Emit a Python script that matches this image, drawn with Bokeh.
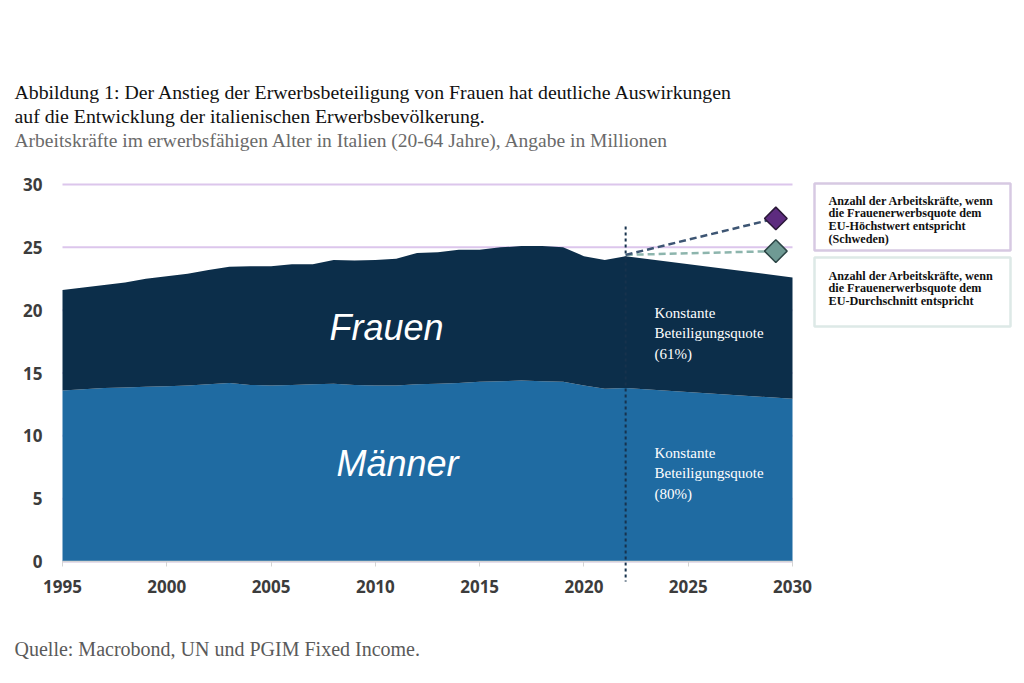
from bokeh.plotting import figure
from bokeh.models import Label, BoxAnnotation, LinearAxis, FixedTicker
from bokeh.embed import file_html
from bokeh.resources import INLINE
import math

# ---------------- data ----------------
jahre = [1995, 1996, 1997, 1998, 1999, 2000, 2001, 2002, 2003, 2004, 2005, 2006,
         2007, 2008, 2009, 2010, 2011, 2012, 2013, 2014, 2015, 2016, 2017, 2018,
         2019, 2020, 2021, 2022, 2030]
gesamt = [21.6, 21.8, 22.0, 22.2, 22.5, 22.7, 22.9, 23.2, 23.45, 23.5, 23.5, 23.65,
          23.65, 24.0, 23.95, 24.0, 24.1, 24.55, 24.6, 24.8, 24.8, 25.0, 25.1, 25.1,
          25.0, 24.3, 24.0, 24.3, 22.6]
maenner = [13.6, 13.7, 13.8, 13.85, 13.9, 13.95, 14.0, 14.1, 14.2, 14.05, 14.0, 14.05,
           14.1, 14.15, 14.05, 14.0, 14.0, 14.1, 14.15, 14.2, 14.3, 14.35, 14.4, 14.35,
           14.3, 14.0, 13.75, 13.8, 12.95]

prognose_start = 2022
szenario_jahre = [2022, 2029.2]
szenario_schweden = [24.4, 27.3]
szenario_eu = [24.4, 24.7]

x_ticks = [1995, 2000, 2005, 2010, 2015, 2020, 2025, 2030]
y_ticks = [0, 5, 10, 15, 20, 25, 30]

# ---------------- layout geometry (page pixels) ----------------
W, H = 1020, 680
FL, FR, FT, FB = 62, 792, 184, 561   # plot area edges
X0, X1, Y0, Y1 = 1995, 2030, 0, 30

def dx(px):
    return X0 + (px - FL) * (X1 - X0) / (FR - FL)

def dy(py):
    return Y0 + (FB - py) * (Y1 - Y0) / (FB - FT)

p = figure(width=W, height=H, x_range=(dx(0), dx(W)), y_range=(dy(H), dy(0)),
           output_backend="svg", toolbar_location=None,
           x_axis_location=None, y_axis_location=None,
           min_border=0)
p.outline_line_color = None
p.background_fill_color = "white"
p.border_fill_color = "white"
p.xgrid.visible = False
p.ygrid.visible = False

FRAUEN_C = "#0c2e4a"
MAENNER_C = "#1f6ba2"

# grid lines (only inside the data area)
p.segment(x0=[X0] * len(y_ticks), x1=[X1] * len(y_ticks), y0=y_ticks, y1=y_ticks,
          line_color="#dcc6ec", line_width=2)

p.varea(x=jahre, y1=[0] * len(jahre), y2=maenner, fill_color=MAENNER_C)
p.varea(x=jahre, y1=maenner, y2=gesamt, fill_color=FRAUEN_C)

# axes
xax = LinearAxis(fixed_location=0, ticker=FixedTicker(ticks=x_ticks), bounds=(X0, X1))
yax = LinearAxis(fixed_location=X0, ticker=FixedTicker(ticks=y_ticks), bounds=(Y0, Y1))
for ax in (xax, yax):
    ax.major_label_text_font = "Open Sans"
    ax.major_label_text_font_style = "bold"
    ax.major_label_text_font_size = "17px"
    ax.major_label_text_color = "#3c3c3c"
    ax.minor_tick_line_color = None
xax.axis_line_color = "#d4d4d4"
xax.axis_line_width = 1.5
xax.major_tick_line_color = "#d4d4d4"
xax.major_tick_in = 0
xax.major_tick_out = 5
xax.major_label_standoff = 13
yax.axis_line_color = None
yax.major_tick_line_color = None
yax.major_tick_in = 0
yax.major_tick_out = 0
yax.major_label_standoff = 20
p.add_layout(xax, "below")
p.add_layout(yax, "left")

# projection divider
p.segment(x0=[prognose_start], x1=[prognose_start], y0=[dy(226)], y1=[dy(581)],
          line_color="#17324d", line_width=2, line_dash="3 3")

# scenario lines and diamonds
p.line(szenario_jahre, szenario_eu, line_color="#8db5ad", line_width=2.5, line_dash="7 4")
p.line(szenario_jahre, szenario_schweden, line_color="#3d5573", line_width=2.5, line_dash="7 4")
p.scatter([szenario_jahre[-1]], [szenario_schweden[-1]], marker="square", angle=math.pi / 4,
          size=16, fill_color="#5d2b7f", line_color="#2a1838", line_width=1.5)
p.scatter([szenario_jahre[-1]], [szenario_eu[-1]], marker="square", angle=math.pi / 4,
          size=16, fill_color="#6f9a94", line_color="#2c4646", line_width=1.5)

# area labels
for txt, px, py in (("Frauen", 386, 327), ("Männer", 397, 463)):
    p.add_layout(Label(x=dx(px), y=dy(py), text=txt, text_align="center",
                       text_baseline="middle", text_font="Liberation Sans",
                       text_font_style="italic", text_font_size="36px",
                       text_color="white"))

for txt, py in (("Konstante\nBeteiligungsquote\n(61%)", 304),
                ("Konstante\nBeteiligungsquote\n(80%)", 444)):
    p.add_layout(Label(x=dx(654), y=dy(py), text=txt, text_align="left",
                       text_baseline="top", text_font="Liberation Serif",
                       text_font_size="15px", text_line_height=1.3,
                       text_color="white"))

# legend boxes
p.add_layout(BoxAnnotation(left=dx(814), right=dx(1010), top=dy(183), bottom=dy(250),
                           fill_color="white", fill_alpha=1.0,
                           line_color="#7b4ca0", line_width=2.5))
p.add_layout(BoxAnnotation(left=dx(814), right=dx(1010), top=dy(257), bottom=dy(326),
                           fill_color="white", fill_alpha=1.0,
                           line_color="#8fb5b0", line_width=2.5))
p.add_layout(Label(x=dx(828), y=dy(193),
                   text="Anzahl der Arbeitskräfte, wenn\ndie Frauenerwerbsquote dem\nEU-Höchstwert entspricht\n(Schweden)",
                   text_baseline="top", text_font="Liberation Serif", text_font_style="bold",
                   text_font_size="12.2px", text_line_height=0.92, text_color="#111111"))
p.add_layout(Label(x=dx(828), y=dy(268),
                   text="Anzahl der Arbeitskräfte, wenn\ndie Frauenerwerbsquote dem\nEU-Durchschnitt entspricht",
                   text_baseline="top", text_font="Liberation Serif", text_font_style="bold",
                   text_font_size="12.2px", text_line_height=0.92, text_color="#111111"))

# titles and source
p.add_layout(Label(x=dx(14), y=dy(91),
                   text="Abbildung 1: Der Anstieg der Erwerbsbeteiligung von Frauen hat deutliche Auswirkungen",
                   text_baseline="alphabetic", text_font="Liberation Serif",
                   text_font_size="19.8px", text_color="#111111"))
p.add_layout(Label(x=dx(14), y=dy(115),
                   text="auf die Entwicklung der italienischen Erwerbsbevölkerung.",
                   text_baseline="alphabetic", text_font="Liberation Serif",
                   text_font_size="19.8px", text_color="#111111"))
p.add_layout(Label(x=dx(14), y=dy(140),
                   text="Arbeitskräfte im erwerbsfähigen Alter in Italien (20-64 Jahre), Angabe in Millionen",
                   text_baseline="alphabetic", text_font="Liberation Serif",
                   text_font_size="19.5px", text_color="#6a6a6a"))
p.add_layout(Label(x=dx(14), y=dy(648),
                   text="Quelle: Macrobond, UN und PGIM Fixed Income.",
                   text_baseline="alphabetic", text_font="Liberation Serif",
                   text_font_size="20px", text_color="#5a5a5a"))

open("out.html", "w").write(file_html(p, INLINE))
